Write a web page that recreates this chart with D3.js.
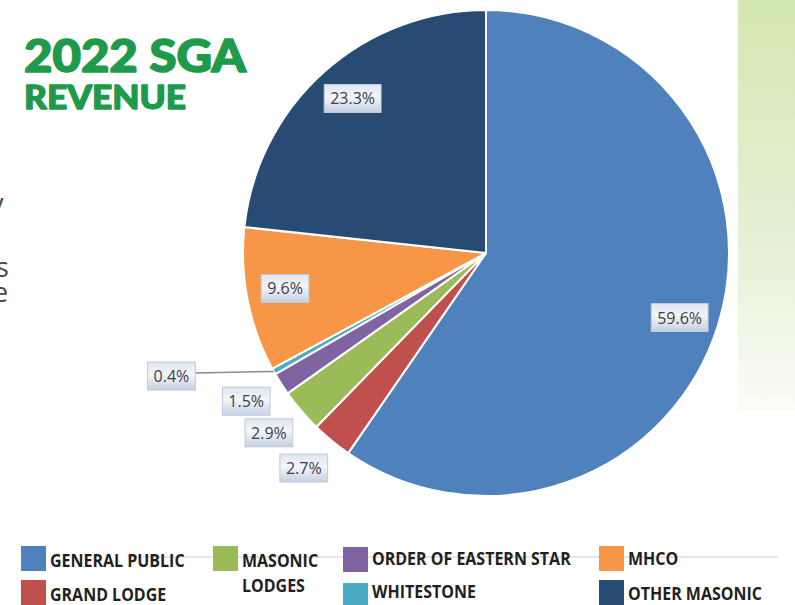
<!DOCTYPE html>
<html>
<head>
<meta charset="utf-8">
<script src="https://cdn.jsdelivr.net/npm/d3@7"></script>
<style>
  html, body { margin: 0; padding: 0; background: #fff; }
  svg { display: block; }
</style>
</head>
<body>
<svg id="chart" width="795" height="605"></svg>
<script>
// ---- data ----
const categories = ["GENERAL PUBLIC", "GRAND LODGE", "MASONIC LODGES", "ORDER OF EASTERN STAR", "WHITESTONE", "MHCO", "OTHER MASONIC"];
const values = [59.6, 2.7, 2.9, 1.5, 0.4, 9.6, 23.3];
const colors = ["#4f81bd", "#c0504d", "#9bbb59", "#8064a2", "#4bacc6", "#f79646", "#284b73"];
const titleLines = ["2022 SGA", "REVENUE"];
const legendLines = [["GENERAL PUBLIC"], ["GRAND LODGE"], ["MASONIC", "LODGES"], ["ORDER OF EASTERN STAR"], ["WHITESTONE"], ["MHCO"], ["OTHER MASONIC"]];

// ---- layout ----
const svg = d3.select("#chart");
const W = 795, H = 605;
const cx = 486, cy = 253, R = 243;
const defs = svg.append("defs");

// right green panel
const pg = defs.append("linearGradient").attr("id", "panelGrad").attr("x1", 0).attr("y1", 0).attr("x2", 0).attr("y2", 1);
pg.append("stop").attr("offset", "0%").attr("stop-color", "#d3e7b1");
pg.append("stop").attr("offset", "60%").attr("stop-color", "#e6f1d6");
pg.append("stop").attr("offset", "100%").attr("stop-color", "#fafcf6");
svg.append("rect").attr("x", 738).attr("y", 0).attr("width", W - 738).attr("height", 410).attr("fill", "url(#panelGrad)");

// cut-off body text fragments at the left edge
const frag = svg.append("g").attr("font-family", "'Open Sans', sans-serif").attr("font-size", 27).attr("fill", "#4a4a4a");
frag.append("text").attr("x", -10).attr("y", 213).text("y");
frag.append("text").attr("x", -4).attr("y", 277).text("s");
frag.append("text").attr("x", -7).attr("y", 302).text("e");

// title
const title = svg.append("g").attr("fill", "#1f9a4b").attr("stroke", "#1f9a4b").attr("stroke-linejoin", "round")
  .attr("font-family", "Lato, 'Open Sans', sans-serif").attr("font-weight", 900);
title.append("text").attr("x", 24).attr("y", 72).attr("font-size", 46).attr("stroke-width", 1.6)
  .attr("textLength", 222).attr("lengthAdjust", "spacingAndGlyphs").text(titleLines[0]);
title.append("text").attr("x", 24).attr("y", 109).attr("font-size", 32).attr("stroke-width", 1.3)
  .attr("textLength", 162).attr("lengthAdjust", "spacingAndGlyphs").text(titleLines[1]);

// pie
const pie = d3.pie().sort(null).value(d => d);
const arcs = pie(values);
const arc = d3.arc().innerRadius(0).outerRadius(R);
const g = svg.append("g").attr("transform", `translate(${cx},${cy})`);
g.selectAll("path.slice").data(arcs).join("path")
  .attr("class", "slice")
  .attr("d", arc)
  .attr("fill", (d, i) => colors[i])
  .attr("stroke", "#fff")
  .attr("stroke-width", 2)
  .attr("stroke-linejoin", "round");

// label boxes
const lg = defs.append("linearGradient").attr("id", "labGrad").attr("x1", 0).attr("y1", 0).attr("x2", 0).attr("y2", 1);
lg.append("stop").attr("offset", "0%").attr("stop-color", "#dfe6f0");
lg.append("stop").attr("offset", "45%").attr("stop-color", "#f3f5f9");
lg.append("stop").attr("offset", "100%").attr("stop-color", "#c5d0e2");

const polar = (r, a) => [r * Math.sin(a), -r * Math.cos(a)];
const fmt = v => v.toFixed(1) + "%";

const labels = arcs.map(d => {
  const mid = (d.startAngle + d.endAngle) / 2;
  let pos, leader = null;
  if (d.data >= 5) {
    pos = polar(R * 0.84, mid + 0.02);
  } else if (d.data >= 1) {
    pos = polar(R * 1.16, mid + 0.015);
  } else {
    pos = polar(R * 1.39, mid + 0.136);
    leader = polar(R, mid);
  }
  return { d, pos, leader };
});

const lbl = g.append("g").attr("font-family", "'Open Sans', sans-serif").attr("font-size", 16);
labels.forEach(L => {
  const t = lbl.append("text")
    .attr("x", L.pos[0]).attr("y", L.pos[1])
    .attr("text-anchor", "middle").attr("dominant-baseline", "central")
    .attr("fill", "#3a3f48")
    .text(fmt(L.d.data));
  const bw = t.node().getComputedTextLength() + 12, bh = 28;
  if (L.leader) {
    lbl.insert("line", "text")
      .attr("x1", L.pos[0] + bw / 2).attr("y1", L.pos[1] - 3)
      .attr("x2", L.leader[0]).attr("y2", L.leader[1])
      .attr("stroke", "#8c8c8c").attr("stroke-width", 1.5);
  }
  lbl.insert("rect", "text")
    .attr("x", L.pos[0] - bw / 2).attr("y", L.pos[1] - bh / 2)
    .attr("width", bw).attr("height", bh)
    .attr("fill", "url(#labGrad)")
    .attr("stroke", "#bfcadc").attr("stroke-width", 1);
  t.raise();
});

// legend
const legend = svg.append("g");
legend.append("line").attr("x1", 127).attr("x2", 778).attr("y1", 557).attr("y2", 557)
  .attr("stroke", "#dcdcdc").attr("stroke-width", 1.5);
const colX = [21, 21, 213, 343, 343, 599, 599];
const rowY = [546, 580, 546, 547, 583, 546, 580];
const textY = [567, 601, 567, 565, 598, 565, 600];
const leg = legend.selectAll("g.item").data(categories).join("g").attr("class", "item");
leg.append("rect")
  .attr("x", (d, i) => colX[i]).attr("y", (d, i) => rowY[i])
  .attr("width", 25).attr("height", 25)
  .attr("fill", (d, i) => colors[i]);
leg.each(function (d, i) {
  const lines = legendLines[i];
  lines.forEach((ln, k) => {
    const t = d3.select(this).append("text")
      .attr("x", colX[i] + 29)
      .attr("y", textY[i] + k * 25)
      .attr("font-family", "'Open Sans', sans-serif")
      .attr("font-weight", 700)
      .attr("font-size", 17)
      .attr("fill", "#231f20")
      .text(ln);
    const w = t.node().getComputedTextLength();
    t.attr("textLength", w * 0.94).attr("lengthAdjust", "spacingAndGlyphs");
  });
});
</script>
</body>
</html>
